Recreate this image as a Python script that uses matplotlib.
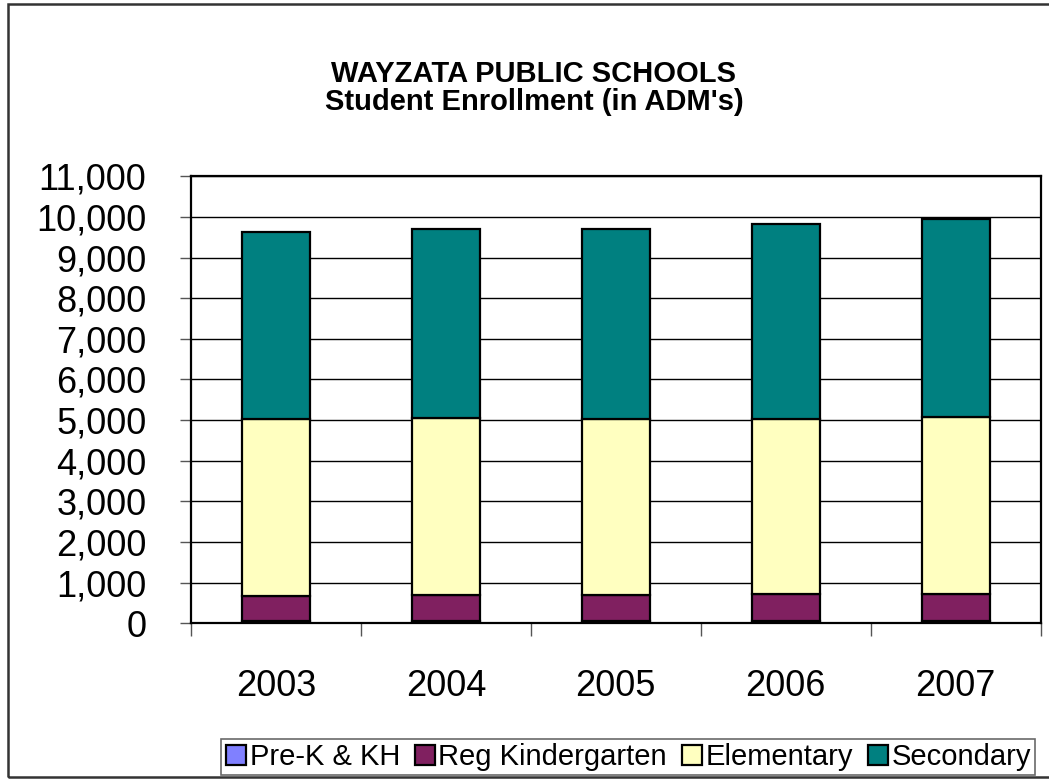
import numpy as np
import matplotlib
matplotlib.use("Agg")
import matplotlib.pyplot as plt
from matplotlib.patches import Rectangle
from matplotlib.ticker import FuncFormatter

plt.rcParams['font.family'] = ['Liberation Sans', 'DejaVu Sans']

# enrollment data
years = ['2003', '2004', '2005', '2006', '2007']
pre_k = [45, 50, 45, 60, 65]
reg_k = [620, 635, 645, 655, 650]
elementary = [4355, 4375, 4340, 4320, 4355]
secondary = [4600, 4650, 4680, 4800, 4890]

series = [('Pre-K & KH', pre_k, '#8080ff'),
          ('Reg Kindergarten', reg_k, '#802060'),
          ('Elementary', elementary, '#ffffc0'),
          ('Secondary', secondary, '#008080')]

fig = plt.figure(figsize=(10.49, 7.80), dpi=100)
ax = fig.add_axes([0.182, 0.201, 0.810, 0.573])

x = np.arange(len(years))
bottom = np.zeros(len(years))
for name, vals, col in series:
    ax.bar(x, vals, width=0.4, bottom=bottom, color=col, edgecolor='black',
           linewidth=1.6, label=name, zorder=3)
    bottom += np.array(vals)

ax.set_xlim(-0.5, len(years) - 0.5)
ax.set_ylim(0, 11000)
ax.set_yticks(np.arange(0, 11001, 1000))
ax.yaxis.set_major_formatter(FuncFormatter(lambda v, p: f'{int(v):,}'))
ax.yaxis.grid(True, color='black', linewidth=1.0, zorder=0)
ax.tick_params(axis='y', labelsize=26, length=8, width=1, color='#555555', pad=24)

ax.set_xticks(x)
ax.set_xticklabels(years)
ax.tick_params(axis='x', which='major', labelsize=26, length=0, pad=33)
ax.set_xticks(np.arange(-0.5, len(years)), minor=True)
ax.tick_params(axis='x', which='minor', length=9, width=1, color='#555555')

for s in ax.spines.values():
    s.set_linewidth(1.6)
    s.set_color('black')

fig.text(0.509, 0.887, 'WAYZATA PUBLIC SCHOOLS\nStudent Enrollment (in ADM\'s)',
         ha='center', va='center', fontsize=21, fontweight='bold', linespacing=1.0)

leg = fig.legend(loc='lower center', bbox_to_anchor=(0.599, 0.006), ncol=4,
                 fontsize=21, frameon=True, fancybox=False, edgecolor='#444444',
                 handlelength=0.7, handleheight=0.7, handletextpad=0.12,
                 columnspacing=0.5, borderpad=0.15, borderaxespad=0.0)
leg.get_frame().set_linewidth(1.2)

# outer chart border
fig.patches.append(Rectangle((8 / 1049, 3 / 780), 1.1, 1 - 7 / 780,
                             transform=fig.transFigure, fill=False,
                             edgecolor='#333333', linewidth=1.8))

fig.savefig('out.png', dpi=100, facecolor='white')
